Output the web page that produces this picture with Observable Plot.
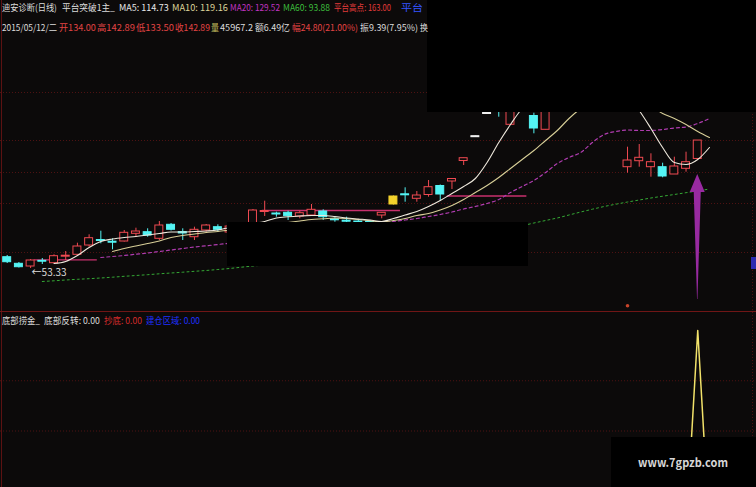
<!DOCTYPE html>
<html><head><meta charset="utf-8">
<script src="https://cdn.jsdelivr.net/npm/d3@7"></script>
<script src="https://cdn.jsdelivr.net/npm/@observablehq/plot@0.6"></script>
<style>
html,body{margin:0;padding:0;background:#0c0a0a;overflow:hidden;}
#wrap{position:relative;width:756px;height:487px;background:#0c0a0a;overflow:hidden;}
#upper,#lower{position:absolute;left:0;}
#upper{top:0;} #lower{top:312px;}
#overlay{position:absolute;left:0;top:0;}
svg text{font-family:"Noto Sans CJK SC","Noto Sans",sans-serif;}
</style></head><body>
<div id="wrap"><div id="upper"></div><div id="lower"></div><svg id="overlay" width="756" height="487"></svg></div>
<script>
// ---- data (daily bars, index 0..59) ----
const openP  = [61.23,56.61,54.72,58.71,57.03,61.58,62.91,69.42,73.27,72.08,
  72.22,77.61,78.73,74.11,83.91,78.87,75.23,79.92,82.23,78.52,
  81.32,84.12,92.87,91.82,92.31,89.72,90.42,93.22,87.76,86.78,
  86.22,86.08,90.42,98.12,105.26,102.11,104.77,111.07,114.22,128.57,
  145.23,161.47,174.42,153.91,163.92,160.07,150.41,170.92,181.42,191.92,
  184.92,176.52,172.32,124.23,128.43,124.23,124.23,119.12,123.11,130.00];
const closeP = [57.73,54.23,58.92,58.08,61.93,62.28,68.72,74.53,72.57,71.38,
  78.31,79.22,76.42,83.42,80.41,77.82,80.41,83.42,80.41,82.72,
  78.52,93.92,93.57,91.12,89.93,92.03,94.41,89.23,87.06,86.08,
  85.52,85.38,92.31,103.72,104.56,104.42,110.23,105.12,115.97,130.53,
  145.93,162.17,167.42,170.92,174.42,151.32,170.92,181.42,191.92,184.92,
  176.52,170.92,168.12,128.92,130.81,127.73,117.72,124.72,127.73,142.89];
const highP  = [62.42,57.52,59.62,60.32,62.91,65.22,71.03,76.91,79.43,74.11,
  79.92,81.53,81.11,86.22,84.82,81.11,82.23,84.12,83.91,84.12,
  82.72,94.62,100.43,92.73,93.43,93.43,98.12,94.41,88.81,89.23,
  86.92,86.57,92.31,104.07,109.81,107.22,114.92,111.77,116.11,130.53,
  145.93,166.00,177.92,174.42,181.42,162.03,177.92,188.42,198.92,197.52,
  188.42,179.32,174.42,138.23,140.12,133.61,127.03,131.23,134.73,142.89];
const lowP   = [56.82,53.67,53.33,56.12,56.82,58.92,62.77,68.23,70.61,66.41,
  71.87,75.23,75.23,72.92,79.57,72.92,72.92,78.73,78.73,77.12,
  75.72,82.72,89.72,89.23,86.92,88.11,89.72,86.92,85.73,85.03,
  82.72,82.72,88.11,97.77,99.73,99.73,103.23,100.57,108.62,125.42,
  145.23,161.30,159.23,153.91,163.22,147.61,150.41,169.52,177.92,179.32,
  172.32,167.42,165.32,120.03,124.23,117.23,116.81,119.12,120.73,130.00];
const yellowBars = [33];
const whiteBars = [40, 41];

// moving averages (first index, then values per bar)
const ma5Start = 4;
const ma5 = [56.82,58.22,62.42,68.02,72.22,73.97,75.02,75.72,76.77,77.82,78.87,78.87,79.22,79.57,80.27,
  82.02,83.42,84.82,86.22,88.67,89.51,90.07,90.42,90.42,89.72,88.67,87.97,87.27,86.22,88.32,
  90.77,93.22,96.72,100.92,105.82,110.72,116.32,127.52,141.52,154.12,165.32,172.32,177.92,182.12,186.32,
  190.52,191.92,190.52,184.92,174.42,163.92,151.32,138.02,127.52,126.12,129.62,138.02];
const ma10Start = 9;
const ma10 = [65.22,67.32,69.07,70.82,72.57,75.02,76.42,77.47,78.52,79.22,80.27,81.32,82.37,83.42,84.47,
  85.52,86.57,87.62,88.11,88.67,88.32,87.62,86.71,85.87,86.92,88.32,90.42,91.82,94.27,97.42,
  101.62,106.52,111.42,117.02,123.32,129.62,135.92,142.92,149.92,158.32,165.32,170.92,174.42,175.82,174.42,
  170.92,166.72,161.82,158.32,154.12,149.22,145.02];
const ma20Start = 8;
const ma20 = [61.02,61.72,62.42,63.33,64.17,65.22,66.27,67.32,68.37,69.21,70.12,70.96,71.87,72.92,73.97,
  75.02,76.07,77.33,78.52,79.78,80.97,82.16,83.42,84.33,85.17,86.22,87.27,88.32,89.72,91.12,
  92.87,94.97,96.72,98.82,101.62,106.52,110.72,114.92,120.52,126.82,131.02,134.52,141.52,147.12,149.22,
  150.27,149.92,149.92,150.62,151.67,152.37,154.82,158.32];
const ma60Start = 3;
const ma60 = [44.22,44.71,45.27,45.76,46.18,46.67,47.23,47.86,48.42,48.98,49.61,50.17,50.73,51.36,51.92,
  52.62,53.32,54.23,55.07,55.77,56.68,57.52,58.43,59.27,60.18,61.02,62.28,63.47,64.66,65.92,
  67.11,68.37,69.56,70.82,72.22,73.62,75.02,76.42,78.03,79.71,81.32,83.21,85.17,86.92,88.67,
  90.77,92.87,94.83,96.72,98.33,99.87,101.27,102.67,103.91,105.12,106.38,107.57,108.97];

// platform (平台) levels: price, first bar, last bar
const platformPrice = [59.41, 93.92, 104.07];
const platformFrom  = [2.3, 21.8, 37.6];
const platformTo    = [7.7, 33.6, 44.4];

const gridPrices = [176.52, 142.92, 120.52, 98.82, 64.52];
const lowLabel = {bar: 2, price: 53.33};
const smallMarks = [{bar: 53, price: 27.2}];

// signal arrow on the last bar
const arrowBar = 59, arrowTip = 119.12, arrowHeadBase = 106.52, arrowTail = 31.62;

// lower panel: 底部反转 signal
const bottomSignal = [];
for (let i = 0; i <= 60; i++) bottomSignal.push(i === 59 ? 1 : 0);
const lowerGrid = [0.5, 0.75];

// ---- colors ----
const BG = "#0c0a0a", RED = "#f04a52", CYAN = "#54f4f4", YEL = "#f4d22c", WHITE = "#f0f0f0";

const candles = openP.map((o, i) => ({
  i, o, c: closeP[i], h: highP[i], l: lowP[i],
  col: yellowBars.includes(i) ? YEL : whiteBars.includes(i) ? WHITE : (closeP[i] >= o ? RED : CYAN),
  hollow: !yellowBars.includes(i) && !whiteBars.includes(i) && closeP[i] >= o
}));
const series = (start, arr) => arr.map((v, k) => ({i: start + k, v}));
const platforms = platformPrice.map((p, k) => ({p, a: platformFrom[k], b: platformTo[k]}));
const arrowShape = [
  {p: arrowTip, x1: arrowBar, x2: arrowBar},
  {p: arrowHeadBase, x1: arrowBar - 0.64, x2: arrowBar + 0.64},
  {p: arrowHeadBase, x1: arrowBar - 0.3, x2: arrowBar + 0.3},
  {p: arrowTail, x1: arrowBar - 0.02, x2: arrowBar + 0.02}
];

const xDomain = [-0.572, 64.02];

const upper = Plot.plot({
  width: 756, height: 312, margin: 0,
  x: {domain: xDomain, axis: null},
  y: {domain: [22.52, 240.92], axis: null},
  color: {type: "identity"},
  style: {background: "transparent", overflow: "visible"},
  marks: [
    Plot.ruleY(gridPrices, {stroke: "#4e1212", strokeDasharray: "1,2"}),
    Plot.ruleY(platforms, {y: "p", x1: "a", x2: "b", stroke: "#c8306e", strokeWidth: 1.3}),
    Plot.ruleX(candles, {x: "i", y1: "l", y2: "h", stroke: "col", strokeWidth: 1}),
    Plot.rect(candles, {x1: d => d.i - 0.34, x2: d => d.i + 0.34, y1: d => Math.min(d.o, d.c), y2: d => Math.max(d.o, d.c),
      fill: d => d.hollow ? BG : d.col, stroke: "col", strokeWidth: 1}),
    Plot.line(series(ma60Start, ma60), {x: "i", y: "v", stroke: "#34a834", strokeWidth: 1, strokeDasharray: "2,3"}),
    Plot.line(series(ma20Start, ma20), {x: "i", y: "v", stroke: "#b03cb0", strokeWidth: 1.2, strokeDasharray: "3,3", curve: "monotone-x"}),
    Plot.line(series(ma10Start, ma10), {x: "i", y: "v", stroke: "#d8cf98", strokeWidth: 1.1, curve: "monotone-x"}),
    Plot.line(series(ma5Start, ma5), {x: "i", y: "v", stroke: "#eee8dc", strokeWidth: 1.1, curve: "monotone-x"}),
    Plot.areaX(arrowShape, {y: "p", x1: "x1", x2: "x2", fill: "#982aa0", curve: "linear"}),
    Plot.dot(smallMarks, {x: "bar", y: "price", r: 1.8, fill: "#c8442a"}),
    Plot.text([lowLabel], {x: "bar", y: "price", text: d => "←" + d.price.toFixed(2), dx: 1, dy: 4,
      textAnchor: "start", fill: "#dcdcdc", fontSize: 10, fontFamily: "Noto Sans"})
  ]
});
document.getElementById("upper").appendChild(upper);

const lower = Plot.plot({
  width: 756, height: 175, margin: 0,
  x: {domain: xDomain, axis: null},
  y: {domain: [0, 1], range: [219, 18], axis: null},
  style: {background: "transparent", overflow: "visible"},
  marks: [
    Plot.ruleY(lowerGrid, {stroke: "#4e1212", strokeDasharray: "1,2"}),
    Plot.line(bottomSignal.map((v, i) => ({i, v})), {x: "i", y: "v", stroke: "#f2e26a", strokeWidth: 1.5})
  ]
});
document.getElementById("lower").appendChild(lower);

// ---- overlay: frame, redaction boxes, header texts ----
const ov = d3.select("#overlay");
ov.append("line").attr("x1", 1.5).attr("x2", 1.5).attr("y1", 0).attr("y2", 487).attr("stroke", "#5c1212");
ov.append("line").attr("x1", 752.5).attr("x2", 752.5).attr("y1", 0).attr("y2", 487).attr("stroke", "#4a1010").attr("stroke-dasharray", "1,2");
ov.append("line").attr("x1", 0).attr("x2", 756).attr("y1", 311.5).attr("y2", 311.5).attr("stroke", "#701616");
ov.append("rect").attr("x", 751).attr("y", 257).attr("width", 5).attr("height", 12).attr("fill", "#2c2cb0");
const boxes = [[427, 0, 329, 112], [227, 222, 301, 44], [611, 437, 145, 50]];
boxes.forEach(b => ov.append("rect").attr("x", b[0]).attr("y", b[1]).attr("width", b[2]).attr("height", b[3]).attr("fill", "#000"));

const headerRow1 = [
  ["迪安诊断(日线)", 2, 55, "#dcdcdc"], ["平台突破1主_", 62, 53, "#dcdcdc"],
  ["MA5: 114.73", 119, 50, "#e8e8e8"], ["MA10: 119.16", 172, 56, "#dcd49a"],
  ["MA20: 129.52", 230, 50, "#c234c2"], ["MA60: 93.88", 283, 47, "#3cbc3c"],
  ["平台高点: 163.00", 334, 57, "#e23a3a"], ["平台", 401, 22, "#3454ff"]
];
const headerRow2 = [
  ["2015/05/12/二", 2, 55, "#dcdcdc"], ["开134.00", 59, 37, "#e24444"], ["高142.89", 97, 38, "#e24444"],
  ["低133.50", 136, 38, "#e24444"], ["收142.89", 175, 35, "#e24444"], ["量", 211, 8, "#c8c060"],
  ["45967.2", 220, 33, "#dcdcdc"], ["额6.49亿", 255, 35, "#dcdcdc"], ["幅24.80(21.00%)", 292, 66, "#e24444"],
  ["振9.39(7.95%)", 360, 58, "#dcdcdc"], ["换", 420, 8, "#dcdcdc"]
];
const lowerRow = [
  ["底部捞金_", 2, 38, "#dcdcdc"], ["底部反转: 0.00", 44, 56, "#dcdcdc"],
  ["抄底: 0.00", 104, 38, "#d42a2a"], ["建仓区域: 0.00", 146, 54, "#1e30ff"]
];
function fitText(t, x, y, len, c, size, extra) {
  const g = ov.append("g");
  const tx = g.append("text").attr("fill", c).attr("font-size", size).text(t);
  if (extra) extra(tx);
  const nat = tx.node().getComputedTextLength() || len;
  g.attr("transform", `translate(${x},${y}) scale(${(len / nat).toFixed(4)},1)`);
}
function row(items, y) {
  items.forEach(([t, x, len, c]) => fitText(t, x, y, len, c, 9));
}
row(headerRow1, 10.5);
row(headerRow2, 31.3);
row(lowerRow, 323.5);
fitText("www.7gpzb.com", 638, 467, 90, "#d6d6d6", 12, tx => tx.attr("font-weight", "bold").attr("font-family", "DejaVu Sans"));
</script></body></html>
